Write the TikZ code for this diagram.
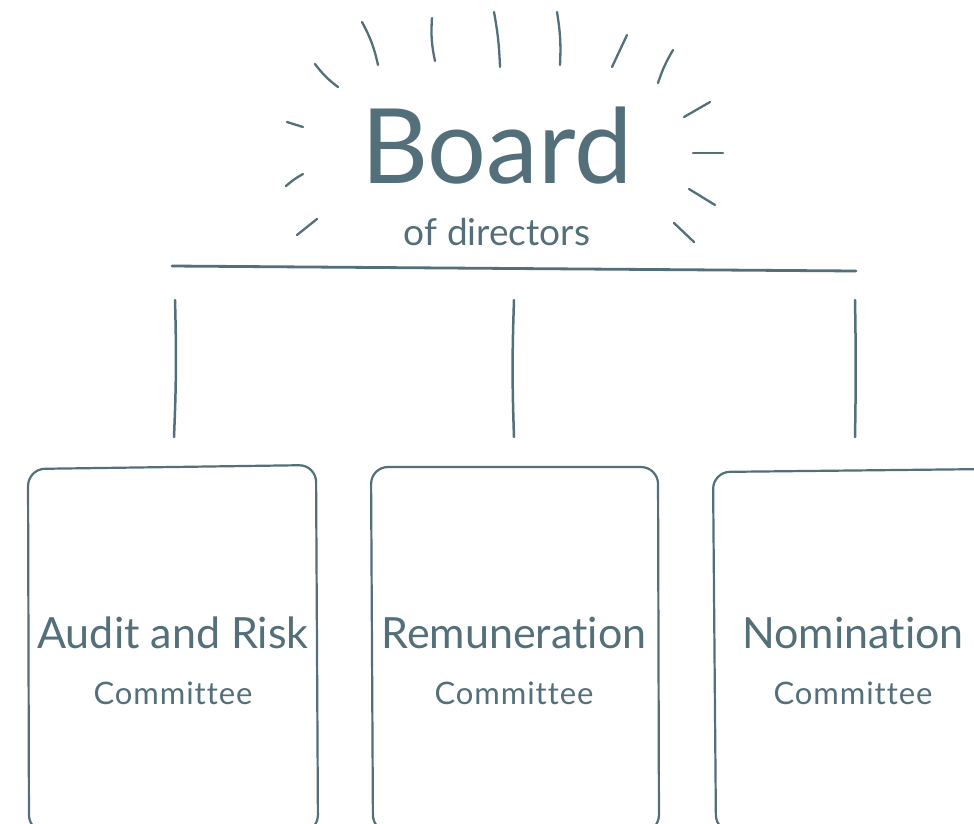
\documentclass[tikz,border=0pt]{standalone}
\usepackage{fontspec}
\setmainfont{Lato}[Ligatures=NoCommon]
\definecolor{slate}{RGB}{83,111,121}
\begin{document}
\begin{tikzpicture}[x=1pt,y=-1pt,line cap=round,
  ray/.style={draw=slate,line width=2.3pt},
  conn/.style={draw=slate,line width=2.5pt},
  box/.style={draw=slate,line width=2.2pt,rounded corners=17pt},
  bigtxt/.style={text=slate,anchor=base,inner sep=0pt,font=\fontsize{104}{120}\selectfont},
  midtxt/.style={text=slate,anchor=base,inner sep=0pt,font=\fontsize{37}{44}\selectfont},
  nametxt/.style={text=slate,anchor=base,inner sep=0pt,font=\fontsize{43}{50}\selectfont},
  subtxt/.style={text=slate,anchor=base,inner sep=0pt,font=\fontsize{31}{36}\selectfont\addfontfeatures{LetterSpace=3}}]
\useasboundingbox (0,0) rectangle (974,823);
\clip (0,0) rectangle (974,823);
% title
\node[bigtxt] (board) at (497,183) {Board};
\node[midtxt] (dirs) at (497,245) {of directors};
% rays
\draw[ray] (362,22) to[bend left=8] (378,65);
\draw[ray] (432,18) to[bend right=8] (435,61);
\draw[ray] (494,12) to[bend left=4] (500,67);
\draw[ray] (557,12) to[bend left=6] (560,65);
\draw[ray] (627,35) -- (612,67);
\draw[ray] (673,50) to[bend right=6] (658,83);
\draw[ray] (315,64) to[bend right=8] (338,87);
\draw[ray] (287,122) -- (303,127);
\draw[ray] (286,186) to[bend left=6] (303,174);
\draw[ray] (297,235) -- (317,219);
\draw[ray] (684,117) -- (710,102);
\draw[ray] (693,153) -- (723,153);
\draw[ray] (689,189) -- (715,205);
\draw[ray] (674,223) -- (694,242);
% bar
\coordinate (barL) at (172,266);
\coordinate (barR) at (856,271);
\draw[conn,line width=2.8pt] (barL) -- (barR);
% connectors
\coordinate (c1t) at (175,300); \coordinate (c1b) at (174,437);
\coordinate (c2t) at (514,300); \coordinate (c2b) at (514,437);
\coordinate (c3t) at (855,300); \coordinate (c3b) at (855,437);
\draw[conn] (c1t) to[bend left=2] (c1b);
\draw[conn] (c2t) to[bend right=2] (c2b);
\draw[conn] (c3t) to[bend left=1] (c3b);
% boxes
\draw[box] (29,832) -- (28,469) -- (316,465) -- (318,832) -- cycle;
\draw[box] (373,832) -- (371,467) -- (658,467) -- (659,832) -- cycle;
\draw[box] (716,832) -- (713,472) -- (990,469) -- (990,832) -- cycle;
% labels
\node[nametxt] (n1) at (173,648) {Audit and Risk};
\node[subtxt] (s1) at (173,704) {Committee};
\node[nametxt] (n2) at (514,648) {Remuneration};
\node[subtxt] (s2) at (514,704) {Committee};
\node[nametxt] (n3) at (853,648) {Nomination};
\node[subtxt] (s3) at (853,704) {Committee};
\end{tikzpicture}
\end{document}
